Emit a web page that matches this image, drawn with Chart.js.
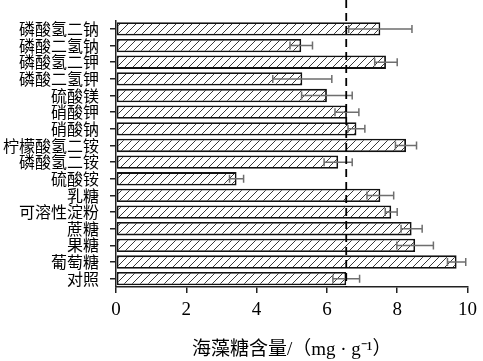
<!DOCTYPE html>
<html>
<head>
<meta charset="utf-8">
<script src="https://cdn.jsdelivr.net/npm/chart.js@4"></script>
<style>
  html, body { margin: 0; padding: 0; background: #fff; }
  #wrap { width: 483px; height: 361px; }
</style>
</head>
<body>
<div id="wrap"><canvas id="trehaloseChart" width="483" height="361"></canvas></div>
<script>
// ======================================================
// Data
// ======================================================

const categories = [
    "磷酸氢二钠", "磷酸二氢钠", "磷酸氢二钾", "磷酸二氢钾",
    "硫酸镁", "硝酸钾", "硝酸钠", "柠檬酸氢二铵",
    "磷酸氢二铵", "硫酸铵", "乳糖", "可溶性淀粉",
    "蔗糖", "果糖", "葡萄糖", "对照"
];

const trehaloseValues = [
    7.52, 5.27, 7.68, 5.30,
    6.00, 6.57, 6.84, 8.25,
    6.32, 3.43, 7.52, 7.83,
    8.41, 8.51, 9.69, 6.55
];

const errorValues = [
    0.90, 0.32, 0.32, 0.84,
    0.72, 0.34, 0.24, 0.30,
    0.40, 0.20, 0.38, 0.17,
    0.30, 0.52, 0.26, 0.38
];

const xTicks = [0, 2, 4, 6, 8, 10];

// control level drawn as dashed reference line
const controlValue = trehaloseValues[trehaloseValues.length - 1];


// ======================================================
// Hatch pattern for bars
// ======================================================

function makeHatch() {
    const size = 8;
    const c = document.createElement("canvas");
    c.width = size;
    c.height = size;
    const g = c.getContext("2d");
    g.fillStyle = "#ffffff";
    g.fillRect(0, 0, size, size);
    g.strokeStyle = "#3a3a3a";
    g.lineWidth = 1;
    g.beginPath();
    g.moveTo(-1, size + 1);
    g.lineTo(size + 1, -1);
    g.moveTo(-1, 1);
    g.lineTo(1, -1);
    g.moveTo(size - 1, size + 1);
    g.lineTo(size + 1, size - 1);
    g.stroke();
    return g.createPattern(c, "repeat");
}


// ======================================================
// Plugins: error bars and control line
// ======================================================

const errorBarPlugin = {
    id: "errorBars",
    afterDatasetsDraw(chart) {
        const ctx = chart.ctx;
        const xScale = chart.scales.x;
        const meta = chart.getDatasetMeta(0);
        ctx.save();
        ctx.strokeStyle = "#6e6e6e";
        ctx.lineWidth = 1.5;
        meta.data.forEach((bar, i) => {
            const v = trehaloseValues[i];
            const e = errorValues[i];
            const x1 = xScale.getPixelForValue(v - e);
            const x2 = xScale.getPixelForValue(v + e);
            const y = bar.y;
            const cap = 4;
            ctx.beginPath();
            ctx.moveTo(x1, y);
            ctx.lineTo(x2, y);
            ctx.moveTo(x1, y - cap);
            ctx.lineTo(x1, y + cap);
            ctx.moveTo(x2, y - cap);
            ctx.lineTo(x2, y + cap);
            ctx.stroke();
        });
        ctx.restore();
    }
};

const controlLinePlugin = {
    id: "controlLine",
    afterDatasetsDraw(chart) {
        const ctx = chart.ctx;
        const x = chart.scales.x.getPixelForValue(controlValue);
        ctx.save();
        ctx.strokeStyle = "#000000";
        ctx.lineWidth = 1.8;
        ctx.setLineDash([8, 5]);
        ctx.beginPath();
        ctx.moveTo(x, 0);
        ctx.lineTo(x, chart.chartArea.bottom);
        ctx.stroke();
        ctx.restore();
    }
};


// ======================================================
// Create Chart
// ======================================================

const ctx = document.getElementById("trehaloseChart").getContext("2d");

new Chart(ctx, {

    type: "bar",

    data: {
        labels: categories,
        datasets: [
            {
                data: trehaloseValues,
                backgroundColor: makeHatch(),
                borderColor: "#111111",
                borderWidth: 1.8,
                borderSkipped: false,
                barPercentage: 0.8,
                categoryPercentage: 1.0
            }
        ]
    },

    options: {
        indexAxis: "y",
        responsive: false,
        animation: false,
        layout: {
            padding: { top: 12, right: 12, left: 0, bottom: 0 }
        },
        plugins: {
            legend: { display: false },
            tooltip: { enabled: false }
        },
        scales: {
            x: {
                min: 0,
                max: 10,
                afterBuildTicks(scale) {
                    scale.ticks = xTicks.map(v => ({ value: v }));
                },
                afterFit(scale) {
                    scale.height = 74;
                },
                grid: {
                    display: true,
                    drawOnChartArea: false,
                    drawTicks: true,
                    tickLength: 6,
                    color: "#222222",
                    lineWidth: 1.5
                },
                border: { display: true, color: "#222222", width: 1.5 },
                ticks: {
                    color: "#000000",
                    padding: 6,
                    maxRotation: 0,
                    font: { family: "'Liberation Serif', 'DejaVu Serif', serif", size: 19 }
                },
                title: {
                    display: true,
                    text: "海藻糖含量/（mg · g⁻¹）",
                    color: "#000000",
                    padding: { top: 6, bottom: 0 },
                    font: { family: "'Liberation Serif', 'Noto Sans CJK SC', serif", size: 19 }
                }
            },
            y: {
                afterFit(scale) {
                    scale.width = 116;
                },
                grid: {
                    display: true,
                    offset: false,
                    drawOnChartArea: false,
                    drawTicks: true,
                    tickLength: 6,
                    color: "#222222",
                    lineWidth: 1.5
                },
                border: { display: true, color: "#222222", width: 1.5 },
                ticks: {
                    color: "#000000",
                    padding: 11,
                    autoSkip: false,
                    font: { family: "'Noto Sans CJK SC', sans-serif", size: 16 }
                }
            }
        }
    },

    plugins: [errorBarPlugin, controlLinePlugin]

});
</script>
</body>
</html>
